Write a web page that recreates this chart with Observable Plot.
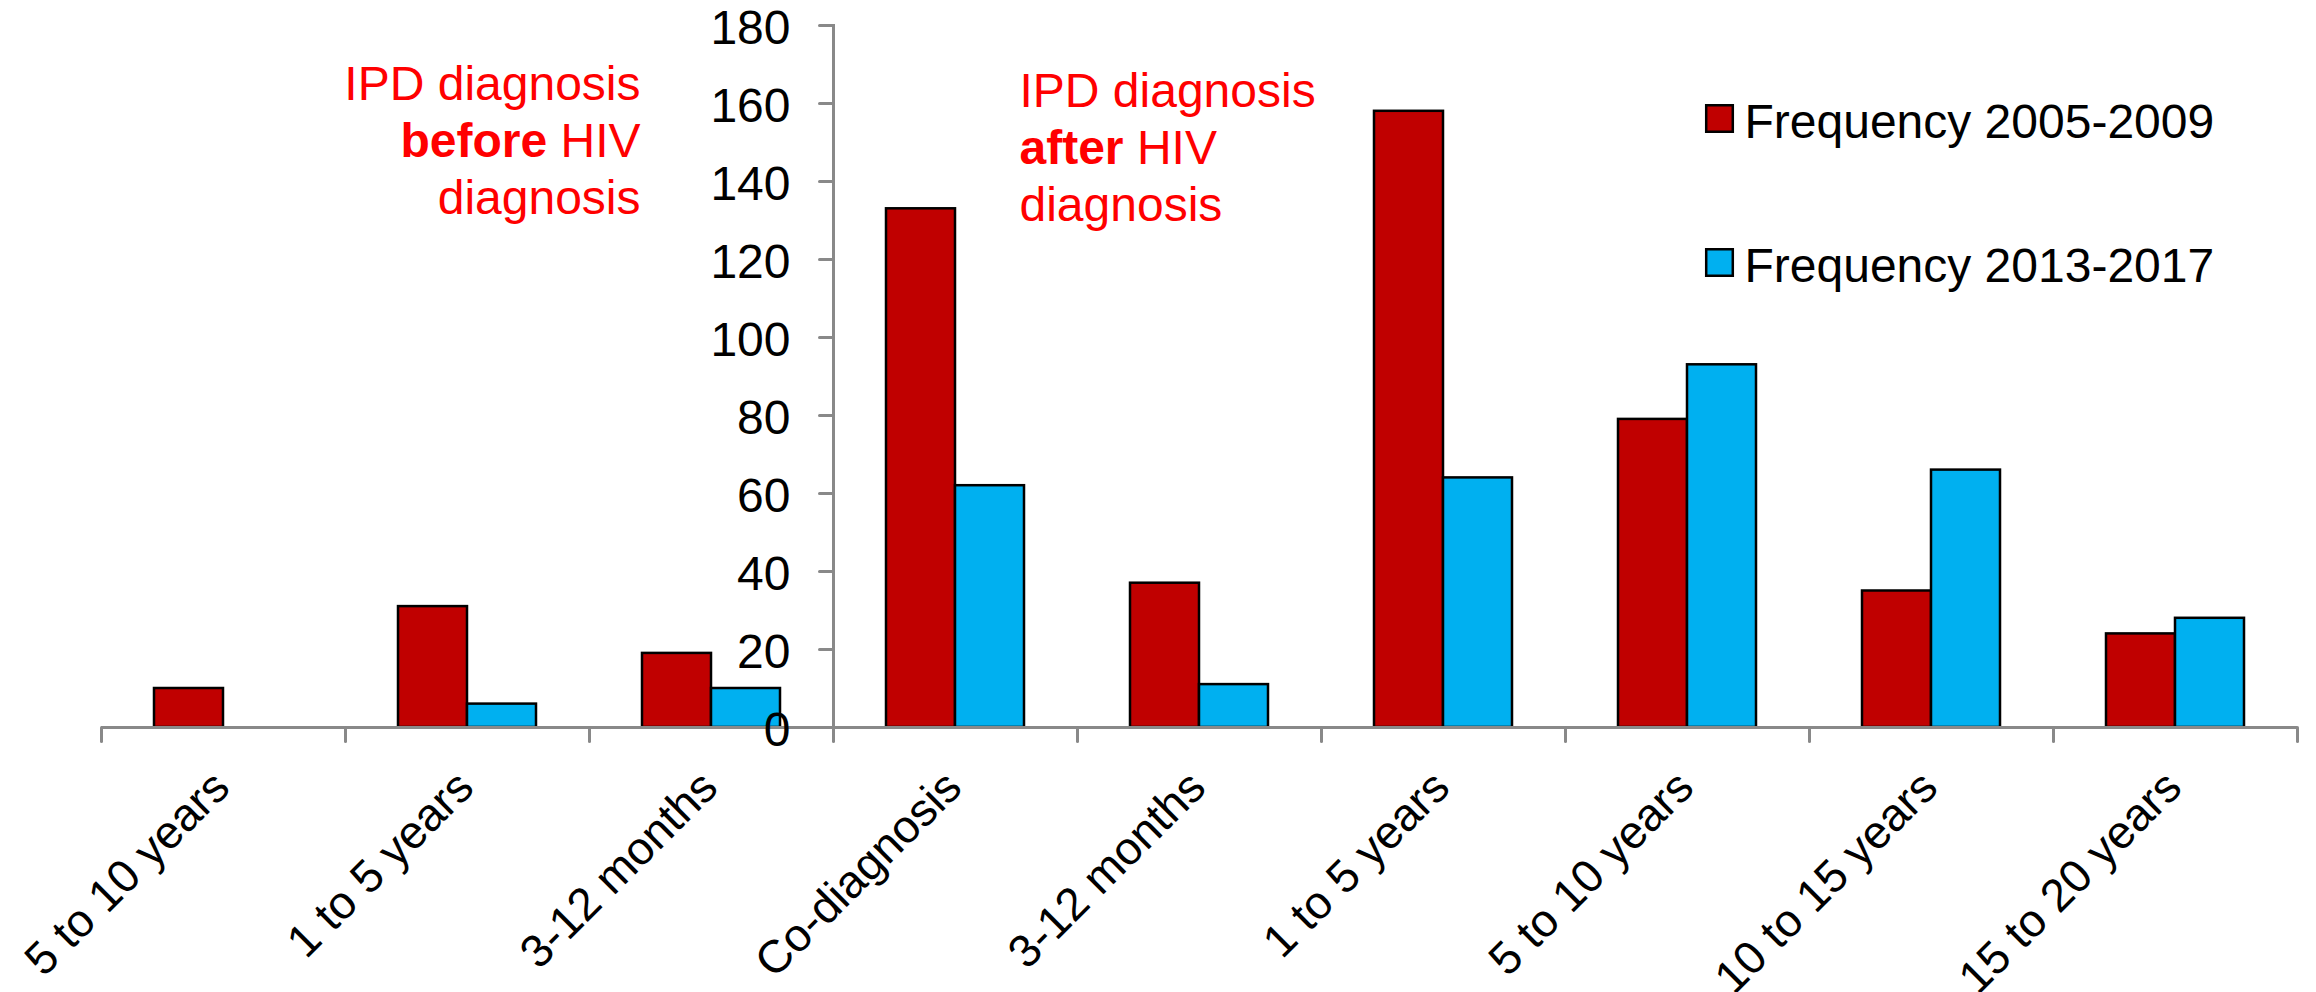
<!DOCTYPE html>
<html>
<head>
<meta charset="utf-8">
<script src="https://cdn.jsdelivr.net/npm/d3@7"></script>
<script src="https://cdn.jsdelivr.net/npm/@observablehq/plot@0.6"></script>
<style>
  html, body { margin: 0; padding: 0; background: #fff; }
  #chart svg { display: block; }
</style>
</head>
<body>
<div id="chart"></div>
<script>
// ---- data ----
const categories = ["5 to 10 years", "1 to 5 years", "3-12 months", "Co-diagnosis", "3-12 months", "1 to 5 years", "5 to 10 years", "10 to 15 years", "15 to 20 years"];
const series = ["Frequency 2005-2009", "Frequency 2013-2017"];
const freq2005_2009 = [10, 31, 19, 133, 37, 158, 79, 35, 24];
const freq2013_2017 = [0, 6, 10, 62, 11, 64, 93, 66, 28];
const yTicks = [0, 20, 40, 60, 80, 100, 120, 140, 160, 180];
const annotationBefore = ["IPD diagnosis", "before HIV", "diagnosis"];
const annotationAfter = ["IPD diagnosis", "after HIV", "diagnosis"];
const boldWords = ["before", "after"];
const seriesColors = ["#C00000", "#00B0F0"];

// ---- derived table ----
const keys = categories.map((c, i) => "c" + i);
const labelOf = new Map(keys.map((k, i) => [k, categories[i]]));
const table = keys.flatMap((k, i) => [
  {key: k, series: series[0], value: freq2005_2009[i]},
  {key: k, series: series[1], value: freq2013_2017[i]}
]);

const FONT = "'Liberation Sans', Arial, Helvetica, sans-serif";
const FS = 48;
const FS_CAT = 46;
const GRAY = "#898989";
const axisKey = keys[3];     // the y axis sits at the left edge of "Co-diagnosis"
const tickShape = {draw(context, l) { context.moveTo(0, 0); context.lineTo(0, -l); }};

const plot = Plot.plot({
  width: 2316,
  height: 992,
  marginLeft: 97,
  marginRight: 15,
  marginTop: 25,
  marginBottom: 265,
  style: {fontFamily: FONT, fontSize: FS + "px", background: "#fff", color: "#000"},
  fx: {domain: keys, padding: 0, axis: null},
  x: {domain: series, paddingInner: 0, paddingOuter: 0.75, axis: null},
  y: {domain: [0, 180], axis: null},
  color: {domain: series, range: seriesColors},
  marks: [
    Plot.barY(table, {fx: "key", x: "series", y: "value", fill: "series", stroke: "#000", strokeWidth: 2.5, filter: d => d.value > 0}),
    Plot.ruleY([0], {stroke: GRAY, strokeWidth: 3}),
    // y axis line + ticks + labels
    Plot.frame({anchor: "left", fx: axisKey, stroke: GRAY, strokeWidth: 3}),
    Plot.vector(yTicks, {fx: () => axisKey, y: d => d, frameAnchor: "left", rotate: -90, length: 14, anchor: "start", shape: tickShape, stroke: GRAY, strokeWidth: 3}),
    Plot.text(yTicks, {fx: () => axisKey, y: d => d, text: d => String(d), frameAnchor: "left", textAnchor: "end", lineAnchor: "middle", dx: -43, dy: 3, fill: "#000", fontSize: FS}),
    // category boundary ticks on x axis
    Plot.vector(keys, {fx: d => d, y: () => 0, frameAnchor: "left", rotate: 180, length: 14, anchor: "start", shape: tickShape, stroke: GRAY, strokeWidth: 3}),
    Plot.vector([keys[keys.length - 1]], {fx: d => d, y: () => 0, frameAnchor: "right", rotate: 180, length: 14, anchor: "start", shape: tickShape, stroke: GRAY, strokeWidth: 3}),
    // category labels
    Plot.text(keys, {fx: d => d, x: null, y: null, text: k => labelOf.get(k), frameAnchor: "bottom", rotate: -45, textAnchor: "end", lineAnchor: "middle", dx: -2, dy: 52, fill: "#000", fontSize: FS_CAT}),
    // annotations
    Plot.text([annotationBefore.join("\n")], {fx: () => keys[2], x: null, y: null, text: d => d, frameAnchor: "top-left", textAnchor: "end", lineAnchor: "top", lineHeight: 1.19, dx: 51, dy: 34, fill: "#FF0000", fontSize: FS}),
    Plot.text([annotationAfter.join("\n")], {fx: () => keys[3], x: null, y: null, text: d => d, frameAnchor: "top-left", textAnchor: "start", lineAnchor: "top", lineHeight: 1.19, dx: 186, dy: 41, fill: "#FF0000", fontSize: FS}),
    // legend
    ...series.map((s, i) => Plot.dot([s], {fx: () => keys[6], x: null, y: null, fill: d => d, frameAnchor: "top-left", dx: 154, dy: 93 + i * 144, symbol: "square", r: 15, stroke: "#000", strokeWidth: 2.5})),
    ...series.map((s, i) => Plot.text([s], {fx: () => keys[6], x: null, y: null, text: d => d, frameAnchor: "top-left", textAnchor: "start", lineAnchor: "middle", dx: 179, dy: 97 + i * 144, fill: "#000", fontSize: FS}))
  ]
});

// bold the key word in the annotation lines
d3.select(plot).selectAll("tspan").each(function() {
  const t = this.textContent;
  for (const w of boldWords) {
    if (t.startsWith(w + " ")) {
      const rest = t.slice(w.length);
      this.textContent = "";
      const b = document.createElementNS("http://www.w3.org/2000/svg", "tspan");
      b.setAttribute("font-weight", "bold");
      b.textContent = w;
      this.appendChild(b);
      this.appendChild(document.createTextNode(rest));
    }
  }
});

document.getElementById("chart").appendChild(plot);
</script>
</body>
</html>
